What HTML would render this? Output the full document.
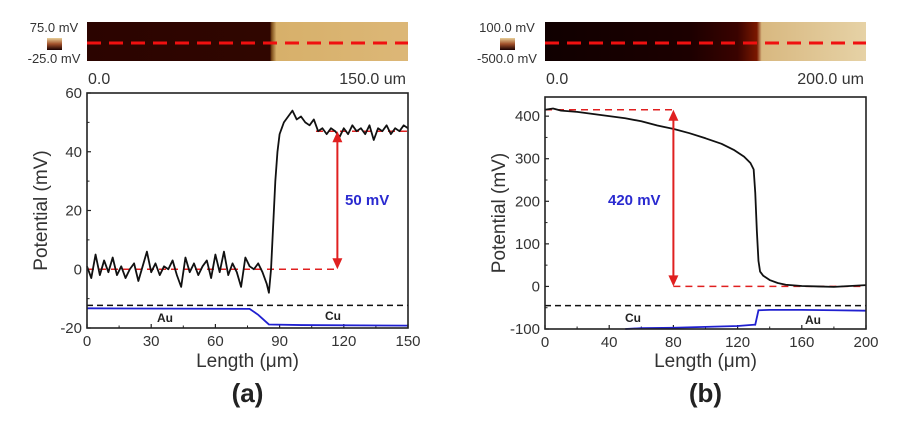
<!DOCTYPE html>
<html><head><meta charset="utf-8"><style>
body{margin:0;background:#fff;width:906px;height:433px;overflow:hidden}
svg{font-family:"Liberation Sans",sans-serif}
</style></head><body>
<svg id="fig" width="906" height="433" viewBox="0 0 906 433">
<defs>
<linearGradient id="ga" x1="0" x2="1"><stop offset="0" stop-color="#2b0400"/><stop offset="0.57" stop-color="#300600"/><stop offset="0.575" stop-color="#7a4a1a"/><stop offset="0.59" stop-color="#d7b06a"/><stop offset="1" stop-color="#dcb777"/></linearGradient>
<linearGradient id="gb" x1="0" x2="1"><stop offset="0" stop-color="#100000"/><stop offset="0.45" stop-color="#1c0000"/><stop offset="0.6" stop-color="#3a0300"/><stop offset="0.66" stop-color="#7a1800"/><stop offset="0.675" stop-color="#d8b880"/><stop offset="1" stop-color="#e6d2a6"/></linearGradient>
<linearGradient id="cb" x1="0" x2="0" y1="0" y2="1"><stop offset="0" stop-color="#e8cf98"/><stop offset="0.5" stop-color="#a0502a"/><stop offset="1" stop-color="#180000"/></linearGradient>
</defs>
</svg>
<script>
// Panel (a) data
const aX=[0,2,4,6,8,10,12,14,16,18,20,22,24,26,28,30,32,34,36,38,40,42,44,46,48,50,52,54,56,58,60,62,64,66,68,70,72,74,76,78,80,82,84,85,86,87,88,89,90,92,94,96,98,100,102,104,106,108,110,112,114,116,118,120,122,124,126,128,130,132,134,136,138,140,142,144,146,148,150];
const aY=[1,-3,5,-2,3,-1,4,-2,1,-3,0,2,-4,1,6,-1,2,-2,1,0,3,-2,-6,4,-1,2,-2,1,3,-3,5,-1,6,-2,2,-1,-6,4,1,0,2,-1,-5,-8,0,15,30,40,46,50,52,54,51,52,50,49,51,47,48,46,48,47,45,48,46,49,47,48,46,49,44,48,47,49,46,48,47,49,48];
const aBlueX=[0,76,80,85,100,150];
const aBlueY=[-13.3,-13.5,-15.5,-18.8,-19,-19.2];
const aXTicks=[0,30,60,90,120,150];
const aYTicks=[-20,0,20,40,60];
// Panel (b) data
const bX=[0,5,10,20,30,40,50,60,70,80,90,100,110,118,124,128,130,131,132,133,134,136,140,145,150,160,170,180,190,200];
const bY=[415,418,413,410,405,400,395,388,378,370,360,348,335,320,305,290,275,220,130,60,35,25,15,8,4,1,0,-1,1,3];
const bBlueX=[50,60,80,100,120,130,131,133,140,160,180,200];
const bBlueY=[-100,-98,-97,-95,-93,-90,-90,-56,-55,-55,-56,-57];
const bXTicks=[0,40,80,120,160,200];
const bYTicks=[-100,0,100,200,300,400];

const NS="http://www.w3.org/2000/svg";
const svg=document.getElementById('fig');
function mk(tag,attrs,parent,text){const e=document.createElementNS(NS,tag);for(const k in attrs)e.setAttribute(k,attrs[k]);if(text!==undefined)e.textContent=text;(parent||svg).appendChild(e);return e;}

function panel(o){
  const g=mk('g',{});
  
  
  const sx=v=>o.x0+(v-o.xmin)/(o.xmax-o.xmin)*(o.x1-o.x0);
  const sy=v=>o.yb-(v-o.ymin)/(o.ymax-o.ymin)*(o.yb-o.yt0);
  const s=mk('rect',{x:o.x0,y:22,width:o.x1-o.x0,height:39,fill:o.grad},g);
  
  
  const sl=mk('line',{x1:o.x0,x2:o.x1,y1:43,y2:43,stroke:'#f01010','stroke-width':3,'stroke-dasharray':'14 8'},g);
  
  
  const c=mk('rect',{x:o.cbx,y:38,width:15,height:12,fill:'url(#cb)'},g);
  
  
  const t1=mk('text',{x:o.cbx+7,y:32,'font-size':13,'text-anchor':'middle',fill:'#333'},g,o.cbTop);
  
  
  const t2=mk('text',{x:o.cbx+7,y:63,'font-size':13,'text-anchor':'middle',fill:'#333'},g,o.cbBot);
  
  
  const t3=mk('text',{x:o.x0+1,y:84,'font-size':16,fill:'#333'},g,'0.0');
  
  
  const t4=mk('text',{x:o.x1-2,y:84,'font-size':16,'text-anchor':'end',fill:'#333'},g,o.mapEnd);
  
  
  o.xt.forEach((v,i)=>{
    const x=sx(v);
    const t=mk('line',{x1:x,x2:x,y1:o.yb,y2:o.yb-4,stroke:'#222','stroke-width':1.2},g);
    
    
    if(i<o.xt.length-1){const m=mk('line',{x1:(x+sx(o.xt[i+1]))/2,x2:(x+sx(o.xt[i+1]))/2,y1:o.yb,y2:o.yb-2.5,stroke:'#222'},g);
      
      }
    const l=mk('text',{x:x,y:o.yb+18,'font-size':15,'text-anchor':'middle',fill:'#333'},g,String(v));
    
    
  });
  o.yt.forEach((v,i)=>{
    const y=sy(v);
    const t=mk('line',{x1:o.x0,x2:o.x0+4,y1:y,y2:y,stroke:'#222','stroke-width':1.2},g);
    
    
    if(i<o.yt.length-1){const ym=(y+sy(o.yt[i+1]))/2;const m=mk('line',{x1:o.x0,x2:o.x0+2.5,y1:ym,y2:ym,stroke:'#222'},g);
      
      }
    const l=mk('text',{x:o.x0-5,y:y+5,'font-size':15,'text-anchor':'end',fill:'#333'},g,String(v));
    
    
  });
  const kd=mk('line',{x1:o.x0,x2:o.x1,y1:sy(o.blackDash),y2:sy(o.blackDash),stroke:'#111','stroke-width':1.5,'stroke-dasharray':'6 4'},g);
  
  
  o.redDash.forEach(r=>{
    const d=mk('line',{x1:sx(r[0]),x2:sx(r[1]),y1:sy(r[2]),y2:sy(r[2]),stroke:'#e02020','stroke-width':1.5,'stroke-dasharray':'7 5'},g);
    
    
  });
  let pb=o.bx.map((v,i)=>sx(v)+','+sy(o.by[i])).join(' ');
  const bl=mk('polyline',{points:pb,fill:'none',stroke:'#2020d0','stroke-width':1.8},g);
  
  
  let pk=o.dx.map((v,i)=>sx(v)+','+sy(o.dy[i])).join(' ');
  const kl=mk('polyline',{points:pk,fill:'none',stroke:'#111','stroke-width':1.8,'stroke-linejoin':'round'},g);
  
  
  const ax=sx(o.arrow[0]),ya=sy(o.arrow[1]),yb2=sy(o.arrow[2]);
  const al=mk('line',{x1:ax,x2:ax,y1:ya+8,y2:yb2-8,stroke:'#e02020','stroke-width':2},g);
  
  
  const h1=mk('polygon',{points:`${ax},${ya} ${ax-5},${ya+11} ${ax+5},${ya+11}`,fill:'#e02020'},g);
  
  
  const h2=mk('polygon',{points:`${ax},${yb2} ${ax-5},${yb2-11} ${ax+5},${yb2-11}`,fill:'#e02020'},g);
  
  
  const dl=mk('text',{x:o.dlab[0],y:o.dlab[1],'font-size':15,'font-weight':'bold',fill:'#2a2ad0'},g,o.dtext);
  
  
  o.mat.forEach(m=>{
    const t=mk('text',{x:m[0],y:m[1],'font-size':12,'font-weight':'bold',fill:'#222','text-anchor':'middle'},g,m[2]);
    
    
  });
  const f=mk('rect',{x:o.x0,y:o.yt0,width:o.x1-o.x0,height:o.yb-o.yt0,fill:'none',stroke:'#222','stroke-width':1.6},g);
  
  
  const yl=mk('text',{x:0,y:0,'font-size':19,'text-anchor':'middle',fill:'#333',transform:`translate(${o.x0-40},${(o.yt0+o.yb)/2}) rotate(-90)`},g,'Potential (mV)');
  
  
  const xl=mk('text',{x:(o.x0+o.x1)/2,y:367,'font-size':19,'text-anchor':'middle',fill:'#333'},g,'Length (\u03bcm)');
  
  
  const pl=mk('text',{x:(o.x0+o.x1)/2,y:402,'font-size':26,'font-weight':'bold','text-anchor':'middle',fill:'#222'},g,o.plab);
  
  
}

panel({name:'panel-a',x0:87,x1:408,yt0:93,yb:328,xmin:0,xmax:150,ymin:-20,ymax:60,
  grad:'url(#ga)',cbx:47,cbTop:'75.0 mV',cbBot:'-25.0 mV',mapEnd:'150.0 um',
  xt:aXTicks,yt:aYTicks,blackDash:-12.3,redDash:[[0,117,0],[107,150,47]],
  bx:aBlueX,by:aBlueY,dx:aX,dy:aY,arrow:[117,47,0],dlab:[345,205],dtext:'50 mV',
  mat:[[165,322,'Au'],[333,320,'Cu']],plab:'(a)'});
panel({name:'panel-b',x0:545,x1:866,yt0:97,yb:329,xmin:0,xmax:200,ymin:-100,ymax:445,
  grad:'url(#gb)',cbx:500,cbTop:'100.0 mV',cbBot:'-500.0 mV',mapEnd:'200.0 um',
  xt:bXTicks,yt:bYTicks,blackDash:-45,redDash:[[0,80,415],[80,200,0]],
  bx:bBlueX,by:bBlueY,dx:bX,dy:bY,arrow:[80,415,0],dlab:[608,205],dtext:'420 mV',
  mat:[[633,322,'Cu'],[813,324,'Au']],plab:'(b)'});
</script>
</body></html>
